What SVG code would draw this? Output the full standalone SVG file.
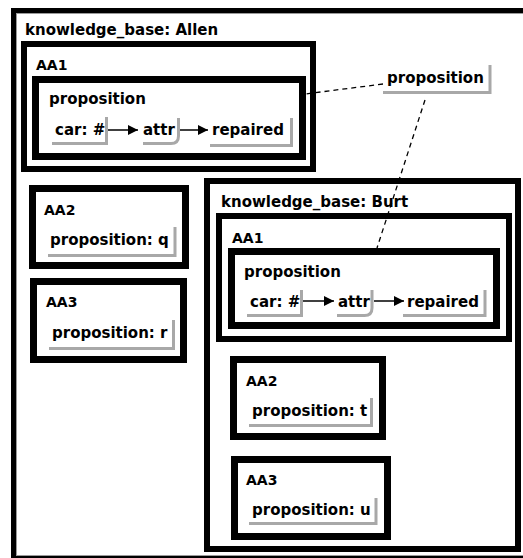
<svg xmlns="http://www.w3.org/2000/svg" width="523" height="558" viewBox="0 0 523 558">
<defs>
<style>
.box{fill:none;stroke:#000}
.bev{fill:none;stroke:#9a9a9a;stroke-width:1}
.sh{fill:none;stroke:#a8a8a8;stroke-width:3}
.t{font-family:"DejaVu Sans","Liberation Sans",sans-serif;font-weight:bold;font-size:15px;fill:#000}
.s{font-family:"DejaVu Sans","Liberation Sans",sans-serif;font-weight:bold;font-size:14px;fill:#000}
.ln{stroke:#000;stroke-width:1.5;fill:none}
.dash{stroke:#000;stroke-width:1.3;fill:none;stroke-dasharray:5 4}
</style>
<marker id="ah" viewBox="0 0 10 10" refX="10" refY="5" markerWidth="10" markerHeight="10" markerUnits="userSpaceOnUse" orient="auto">
<path d="M0,0 L10,5 L0,10 z" fill="#000"/>
</marker>
</defs>
<rect width="523" height="558" fill="#fff"/>

<g id="kb-allen">
<rect class="box" x="13.5" y="10.5" width="560" height="547" stroke-width="5"/>
<rect class="bev" x="16.5" y="13.5" width="560" height="542"/>
<text class="t" x="25" y="35">knowledge_base: Allen</text>
</g>

<g id="allen-aa1">
<rect class="box" x="24" y="44" width="289" height="125" stroke-width="6"/>
<text class="s" x="36" y="70">AA1</text>
</g>
<g id="allen-prop">
<rect class="box" x="35.5" y="79.5" width="267" height="77" stroke-width="7"/>
<text class="t" x="49" y="104">proposition</text>
</g>
<g id="allen-car">
<path class="sh" d="M106.5 117 V143.5 H52"/>
<text class="t" x="55" y="135">car: #</text>
</g>
<g id="allen-attr">
<path class="sh" d="M178.5 118 V136 Q178.5 143.5 171 143.5 H143"/>
<text class="t" x="143" y="135">attr</text>
</g>
<g id="allen-repaired">
<path class="sh" d="M291.5 118 V145.5 H210"/>
<text class="t" x="212" y="135">repaired</text>
</g>

<g id="allen-aa2">
<rect class="box" x="32.5" y="188.5" width="153" height="77" stroke-width="7"/>
<text class="s" x="44" y="215">AA2</text>
<path class="sh" d="M175 227 V255.5 H48"/>
<text class="t" x="50" y="245">proposition: q</text>
</g>

<g id="allen-aa3">
<rect class="box" x="33.5" y="281.5" width="150" height="78" stroke-width="7"/>
<text class="s" x="46" y="307">AA3</text>
<path class="sh" d="M173.5 320 V348.5 H49"/>
<text class="t" x="52" y="338">proposition: r</text>
</g>

<g id="proposition">
<path class="sh" d="M490 65 V92.5 H383"/>
<text class="t" x="387" y="83">proposition</text>
</g>

<g id="kb-burt">
<rect class="box" x="207" y="181" width="311" height="368" stroke-width="6"/>
<text class="t" x="221" y="207">knowledge_base: Burt</text>
</g>

<g id="burt-aa1">
<rect class="box" x="219" y="216" width="290" height="123" stroke-width="6"/>
<text class="s" x="232" y="243">AA1</text>
</g>
<g id="burt-prop">
<rect class="box" x="231.5" y="251.5" width="265" height="74" stroke-width="7"/>
<text class="t" x="244" y="277">proposition</text>
</g>
<g id="burt-car">
<path class="sh" d="M301.5 290 V315.5 H247"/>
<text class="t" x="250" y="307">car: #</text>
</g>
<g id="burt-attr">
<path class="sh" d="M372 290 V308 Q372 315.5 364.5 315.5 H337"/>
<text class="t" x="338" y="307">attr</text>
</g>
<g id="burt-repaired">
<path class="sh" d="M485 290 V315.5 H403"/>
<text class="t" x="407" y="307">repaired</text>
</g>

<g id="burt-aa2">
<rect class="box" x="233.5" y="359.5" width="149" height="77" stroke-width="7"/>
<text class="s" x="246" y="386">AA2</text>
<path class="sh" d="M371.5 398 V425.5 H249"/>
<text class="t" x="252" y="416">proposition: t</text>
</g>

<g id="burt-aa3">
<rect class="box" x="234.5" y="459.5" width="153" height="77" stroke-width="7"/>
<text class="s" x="246" y="485">AA3</text>
<path class="sh" d="M376 498 V523.5 H249"/>
<text class="t" x="252" y="515">proposition: u</text>
</g>

<g id="connectors">
<line class="ln" x1="108" y1="130" x2="138" y2="130" marker-end="url(#ah)"/>
<line class="ln" x1="180" y1="130" x2="208" y2="130" marker-end="url(#ah)"/>
<line class="ln" x1="303" y1="301" x2="334" y2="301" marker-end="url(#ah)"/>
<line class="ln" x1="374" y1="301" x2="404" y2="301" marker-end="url(#ah)"/>
<line class="dash" x1="383" y1="84" x2="305" y2="94"/>
<line class="dash" x1="425" y1="100" x2="377" y2="248"/>
</g>
</svg>
